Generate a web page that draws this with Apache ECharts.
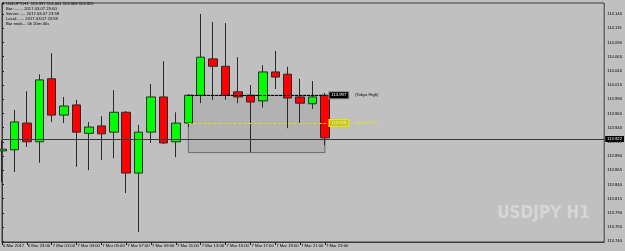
<!DOCTYPE html>
<html><head><meta charset="utf-8">
<script src="https://cdn.jsdelivr.net/npm/echarts@6/dist/echarts.min.js"></script>
<style>html,body{margin:0;padding:0;background:#c0c0c0}#c{width:625px;height:251px}</style>
</head><body><div id="c"></div>
<script>
const categories = ['6 Mar 21:00','6 Mar 22:00','6 Mar 23:00','7 Mar 00:00','7 Mar 01:00','7 Mar 02:00','7 Mar 03:00','7 Mar 04:00','7 Mar 05:00','7 Mar 06:00','7 Mar 07:00','7 Mar 08:00','7 Mar 09:00','7 Mar 10:00','7 Mar 11:00','7 Mar 12:00','7 Mar 13:00','7 Mar 14:00','7 Mar 15:00','7 Mar 16:00','7 Mar 17:00','7 Mar 18:00','7 Mar 19:00','7 Mar 20:00','7 Mar 21:00','7 Mar 22:00','7 Mar 23:00'];
const opens  = [113.899,113.901,113.948,113.915,114.026,113.962,113.980,113.930,113.943,113.932,113.967,113.860,113.932,113.994,113.915,113.948,113.997,114.061,114.048,114.003,113.997,113.987,114.038,114.034,113.994,113.982,113.997];
const closes = [113.902,113.950,113.915,114.024,113.962,113.978,113.932,113.941,113.929,113.967,113.860,113.932,113.994,113.913,113.948,113.997,114.064,114.048,113.997,113.994,113.985,114.038,114.029,113.992,113.983,113.994,113.922];
const lows   = [113.844,113.862,113.906,113.878,113.950,113.948,113.871,113.865,113.883,113.886,113.825,113.756,113.913,113.911,113.888,113.941,113.983,113.989,113.989,113.983,113.897,113.975,114.008,113.939,113.948,113.973,113.909];
const highs  = [113.918,113.971,114.004,114.034,114.071,113.994,113.989,113.950,113.960,114.006,113.969,113.945,114.017,114.057,113.967,113.999,114.140,114.126,114.124,114.064,114.015,114.050,114.075,114.047,114.026,114.022,114.001];

const xTickIdx = [0,2,4,6,8,10,12,14,16,18,20,22,24,26];
const xTickLabels = ['6 Mar 2017','6 Mar 23:00','7 Mar 01:00','7 Mar 03:00','7 Mar 05:00','7 Mar 07:00','7 Mar 09:00','7 Mar 11:00','7 Mar 13:00','7 Mar 15:00','7 Mar 17:00','7 Mar 19:00','7 Mar 21:00','7 Mar 23:00'];
const yTicks = [114.140,114.115,114.090,114.065,114.040,114.015,113.990,113.965,113.940,113.915,113.890,113.865,113.840,113.815,113.790,113.765,113.740];

const headerLines = ['USDJPY,H1  113.997 114.001 113.909 113.922','Bar:........ 2017.03.07 23:00','Server:..... 2017.03.07 23:59','Local:...... 2017.03.07 23:59','Bar ends... 0h 20m 40s'];
const currentPrice = 113.922;
const boxStart = 15, boxEnd = 26;
const boxHigh = 113.997, boxOpen = 113.948, boxLow = 113.896;
const boxHighText = '(Tokyo High)', boxOpenText = 'Open 12:59', boxLowText = 'Low 12:00';
const watermark = 'USDJPY H1';

const data = categories.map((c,i)=>[i, opens[i], closes[i], lows[i], highs[i]]);
const F = 'Liberation Sans';
const FS = 4.2;

const chart = echarts.init(document.getElementById('c'), null, {renderer:'canvas'});
chart.setOption({
  backgroundColor:'#c0c0c0',
  animation:false,
  grid:{left:2, right:17, top:3, bottom:9, show:true, borderColor:'#3a3a3a', borderWidth:1, backgroundColor:'transparent'},
  xAxis:{type:'value', min:0, max:48.48, splitLine:{show:false},
    axisLine:{show:true, lineStyle:{color:'#3a3a3a'}},
    axisTick:{show:true, customValues:xTickIdx, length:3, lineStyle:{color:'#222'}},
    axisLabel:{customValues:xTickIdx, showMinLabel:true, hideOverlap:false, formatter:v=>xTickLabels[xTickIdx.indexOf(Math.round(v))]||'', align:'left', margin:1.5, padding:[0,0,0,1], fontSize:FS, fontFamily:F, color:'#000'}},
  yAxis:{type:'value', position:'right', min:113.7386, max:114.1594, scale:true, splitLine:{show:false},
    axisLine:{show:true, lineStyle:{color:'#3a3a3a'}},
    axisTick:{show:true, customValues:yTicks, length:2, lineStyle:{color:'#222'}},
    axisLabel:{customValues:yTicks, formatter:v=>v.toFixed(3), margin:3, fontSize:FS, fontFamily:F, color:'#000'}},
  series:[{
    type:'candlestick', data:data, encode:{x:0, y:[1,2,3,4]}, barWidth:9, clip:true,
    itemStyle:{color:'#00ff00', color0:'#ff0000', borderColor:'#2a2a2a', borderColor0:'#2a2a2a', borderWidth:1},
    markArea:{silent:true, itemStyle:{color:'#b2b2b2', borderColor:'#6a6a6a', borderWidth:1},
      data:[[{coord:[boxStart, boxHigh]},{coord:[boxEnd, boxLow]}]]},
    markLine:{silent:true, symbol:['none','none'], animation:false,
      data:[
        [{coord:[boxStart-0.1, boxHigh], lineStyle:{color:'#000', type:[3,1], width:1},
          label:{show:true, position:'end', distance:2, formatter:'{b|'+boxHigh.toFixed(3)+'}  {t|'+boxHighText+'}',
            rich:{b:{backgroundColor:'#000', color:'#fff', fontSize:FS, fontFamily:F, padding:[1,2], borderColor:'#888', borderWidth:1}, t:{color:'#000', fontSize:FS, fontFamily:F}}}},
         {coord:[boxEnd+0.2, boxHigh]}],
        [{coord:[boxStart, boxOpen], lineStyle:{color:'#e0e000', type:[3,2], width:1},
          label:{show:true, position:'end', distance:2, formatter:'{b|'+boxOpen.toFixed(3)+'}  {t|'+boxOpenText+'}',
            rich:{b:{backgroundColor:'#c8c820', color:'#f4f4a0', fontSize:FS, fontFamily:F, padding:[1,2], borderColor:'#e8e800', borderWidth:1}, t:{color:'#e8e800', fontSize:FS, fontFamily:F}}}},
         {coord:[boxEnd+0.2, boxOpen]}],
        [{coord:[boxStart, boxLow], lineStyle:{color:'#6a6a6a', width:0, opacity:0},
          label:{show:true, position:'end', distance:2, formatter:'{b|'+boxLow.toFixed(3)+'}  {t|'+boxLowText+'}',
            rich:{b:{backgroundColor:'#7a7a7a', color:'#fff', fontSize:FS, fontFamily:F, padding:[1,2], borderColor:'#444', borderWidth:1}, t:{color:'#000', fontSize:FS, fontFamily:F}}}},
         {coord:[boxEnd+0.2, boxLow]}],
        {yAxis:currentPrice, lineStyle:{color:'#3a3a3a', type:'solid', width:1},
          label:{show:true, position:'end', distance:1, formatter:currentPrice.toFixed(3), backgroundColor:'#000', color:'#fff', fontSize:FS, fontFamily:F, padding:[1,2]}}
      ]}
  }],
  graphic:[
    {type:'text', left:2, top:1, style:{text:'▾', font:'5px "'+F+'"', fill:'#000'}},
    {type:'group', left:6, top:2, children: headerLines.map((t,i)=>({type:'text', x:0, y:i*5, style:{text:t, font:FS+'px "'+F+'"', fill:'#000'}}))},
    {type:'text', right:35, bottom:29, style:{text:watermark, font:'bold 17px "Liberation Sans Narrow","DejaVu Sans Condensed","Liberation Sans"', fill:'#d6d6d6'}}
  ]
});
</script></body></html>
